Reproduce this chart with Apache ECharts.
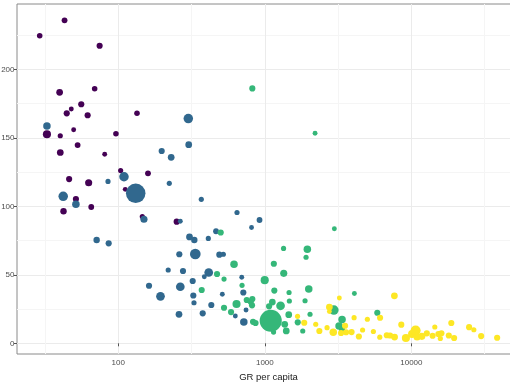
<!DOCTYPE html>
<html><head><meta charset="utf-8">
<script src="https://cdn.jsdelivr.net/npm/echarts@6/dist/echarts.min.js"></script>
<style>html,body{margin:0;padding:0;background:#fff}#c{width:510px;height:382px}</style>
</head><body><div id="c"></div>
<script>
// tick values
const xTicks = [100, 1000, 10000];
const xMinor = [31.6228, 316.228, 3162.28, 31622.8];
const yTicks = [0, 50, 100, 150, 200];
const yMinor = [25, 75, 125, 175, 225];

// group 1 (purple)
const g1x = [43.0, 29.1, 74.6, 39.8, 69.0, 55.9, 47.8, 44.5, 61.8, 134.2, 32.6, 40.2, 49.6, 96.4, 52.8, 40.2, 80.8, 103.8, 159.5, 46.2, 62.8, 111.6, 51.4, 65.4, 42.3, 145.9, 250.3];
const g1y = [235.8, 224.5, 217.2, 183.2, 185.8, 174.5, 171.0, 167.9, 166.5, 167.9, 152.6, 151.5, 155.9, 153.0, 144.7, 139.3, 138.0, 126.1, 124.1, 119.9, 117.2, 112.4, 105.3, 99.5, 96.4, 92.6, 88.8];
const g1pop = [35, 27, 46, 67, 27, 46, 8, 46, 46, 27, 124, 15, 8, 27, 35, 67, 8, 15, 35, 46, 82, 8, 46, 35, 55, 15, 46];

// group 2 (blue)
const g2x = [32.6, 109.4, 85.1, 131.5, 42.1, 51.4, 149.7, 71.2, 86.0, 300.5, 302.4, 197.8, 229.6, 222.9, 368.6, 265, 645.9, 919.8, 811.4, 306.2, 330.2, 411.5, 464.5, 260.9, 335.4, 489.2, 521, 219.1, 276.4, 414.1, 386.4, 695.6, 321.9, 162.1, 265, 713.3, 194.1, 325.1, 512.8, 328.6, 431.3, 744.3, 259.6, 376.8, 628.9, 719];
const g2y = [158.6, 121.6, 118.2, 109.5, 107.3, 101.5, 90.6, 75.4, 73.0, 164.1, 145.0, 140.4, 135.8, 116.8, 105.1, 89.1, 95.5, 90.0, 84.5, 77.7, 75.4, 76.6, 81.8, 65.0, 65.2, 64.7, 65.0, 53.5, 52.8, 51.7, 48.6, 48.2, 45.5, 42.0, 41.3, 37.1, 34.3, 34.9, 35.8, 29.6, 28.0, 24.3, 21.2, 21.9, 19.9, 15.5];
const g2pop = [98, 192, 15, 1000, 192, 98, 82, 55, 46, 192, 67, 46, 67, 15, 15, 8, 15, 35, 8, 67, 55, 15, 35, 46, 258, 46, 15, 15, 46, 152, 8, 8, 46, 46, 152, 46, 152, 46, 8, 15, 46, 8, 67, 46, 8, 98];

// group 3 (green)
const g3x = [821.7, 2201, 500, 2981, 616.3, 1342, 1950, 1911, 1152, 1346, 998, 471.9, 526.7, 699, 370.9, 1161, 1463, 1994, 4083, 641, 752.5, 801.3, 821.7, 817.7, 526.7, 588, 830.8, 864, 1097, 1125, 1280, 1470, 1881, 1069, 2958, 1456, 2034, 1677, 3365, 3210, 1367, 1400, 1147, 1814, 5852, 3365];
const g3y = [186.1, 153.3, 80.9, 83.6, 57.7, 69.3, 68.7, 62.8, 58.1, 51.1, 46.1, 50.6, 46.9, 42.3, 38.9, 38.5, 37.1, 39.6, 36.4, 28.7, 31.6, 30.4, 32.3, 27.7, 26.0, 22.8, 15.7, 14.8, 16.5, 30.1, 27.4, 30.9, 31.1, 27.0, 24.3, 20.9, 21.2, 15.3, 17.4, 12.6, 13.9, 9.0, 8.2, 9.0, 22.3, 10.1];
const g3pop = [46, 8, 46, 8, 98, 15, 98, 15, 46, 82, 124, 46, 15, 15, 46, 46, 15, 98, 8, 124, 46, 46, 46, 46, 46, 46, 46, 46, 1300, 67, 152, 15, 15, 46, 192, 67, 15, 46, 98, 98, 67, 67, 15, 15, 46, 46];

// group 4 (yellow)
const g4x = [3225, 7656, 2756, 2756, 1672, 1857, 2225, 2658, 2355, 2930, 3527, 3312, 3583, 3907, 4064, 4381, 4645, 5007, 5504, 6113, 6085, 6795, 7154, 7679, 8533, 9174, 10111, 10683, 11776, 12738, 13953, 14445, 15285, 16025, 15752, 18000, 18723, 19565, 24760, 26670, 29920, 38460, 10937];
const g4y = [33.1, 34.7, 26.5, 23.2, 19.7, 15.0, 13.9, 11.4, 9.0, 8.1, 12.8, 7.5, 8.1, 8.2, 18.7, 5.0, 9.7, 17.6, 8.6, 18.7, 4.5, 5.9, 5.7, 4.6, 13.6, 3.9, 6.8, 9.3, 5.1, 7.3, 5.5, 11.9, 6.8, 7.3, 3.5, 5.7, 14.8, 3.9, 11.8, 9.9, 5.3, 4.1, 4.6];
const g4pop = [8, 67, 67, 8, 15, 46, 15, 15, 46, 98, 46, 46, 46, 46, 15, 46, 15, 15, 15, 46, 15, 46, 46, 67, 46, 124, 124, 224, 82, 46, 46, 15, 46, 46, 15, 46, 46, 46, 46, 15, 46, 46, 82];

const colors = ['#440154', '#31688E', '#35B779', '#FDE725'];
const groups = [[g1x, g1y, g1pop], [g2x, g2y, g2pop], [g3x, g3y, g3pop], [g4x, g4y, g4pop]];

function symSize(v) { return 2 * Math.sqrt(5.3 + 0.09 * v[2]); }

const series = groups.map((g, i) => ({
  type: 'scatter',
  xAxisIndex: 0, yAxisIndex: 0,
  data: g[0].map((x, k) => [x, g[1][k], g[2][k]]),
  symbolSize: symSize,
  itemStyle: { color: colors[i], opacity: 1 },
  silent: true
}));

const fontFam = 'Liberation Sans, Arial, sans-serif';
const X_MIN = 20.37, X_MAX = 55080, Y_MIN = -7.8, Y_MAX = 247.7;

const chart = echarts.init(document.getElementById('c'), null, { renderer: 'canvas' });
chart.setOption({
  animation: false,
  backgroundColor: '#ffffff',
  grid: { left: 17, top: 4, width: 503, height: 350, containLabel: false, outerBoundsMode: 'none', show: true, borderColor: '#8a8a8a', borderWidth: 1, backgroundColor: 'transparent' },
  xAxis: [
    {
      type: 'log', logBase: 10, min: X_MIN, max: X_MAX, position: 'bottom',
      name: 'GR per capita', nameLocation: 'middle', nameGap: 10,
      nameTextStyle: { color: '#1a1a1a', fontSize: 9.5, fontFamily: fontFam },
      axisLine: { show: false },
      axisTick: { show: true, length: 3, customValues: xTicks, lineStyle: { color: '#555' } },
      axisLabel: { customValues: xTicks, color: '#4d4d4d', fontSize: 8, margin: 5, fontFamily: fontFam, formatter: v => String(Math.round(v)) },
      splitLine: { show: true, lineStyle: { color: '#ebebeb', width: 1 } }
    },
    {
      type: 'log', logBase: 10, min: X_MIN, max: X_MAX, position: 'bottom',
      axisLine: { show: false },
      axisTick: { show: false, customValues: xMinor },
      axisLabel: { show: false, customValues: xMinor },
      splitLine: { show: true, lineStyle: { color: '#f5f5f5', width: 1 } }
    }
  ],
  yAxis: [
    {
      type: 'value', min: Y_MIN, max: Y_MAX, position: 'left',
      axisLine: { show: false },
      axisTick: { show: true, length: 3, customValues: yTicks, lineStyle: { color: '#555' } },
      axisLabel: { customValues: yTicks, color: '#4d4d4d', fontSize: 8, margin: 2.5, fontFamily: fontFam },
      splitLine: { show: true, lineStyle: { color: '#ebebeb', width: 1 } }
    },
    {
      type: 'value', min: Y_MIN, max: Y_MAX, position: 'left',
      axisLine: { show: false },
      axisTick: { show: false, customValues: yMinor },
      axisLabel: { show: false, customValues: yMinor },
      splitLine: { show: true, lineStyle: { color: '#f5f5f5', width: 1 } }
    }
  ],
  series: series
});
</script>
</body></html>
